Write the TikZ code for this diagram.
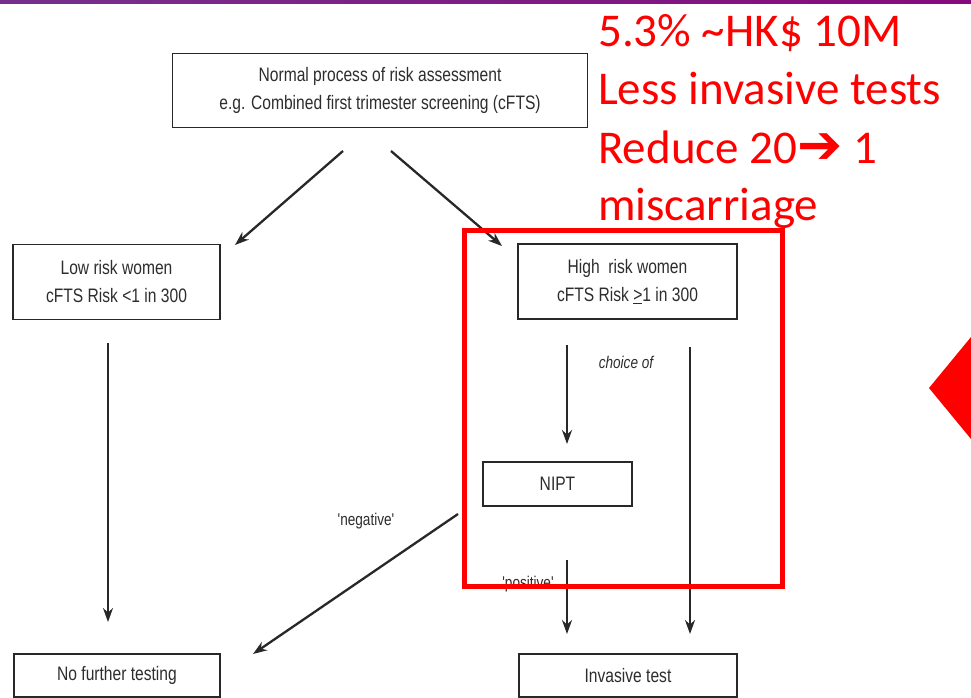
\documentclass[tikz,border=0pt]{standalone}
\usepackage{fontspec}
\setmainfont{Carlito}
\newfontfamily\diagfont[FakeStretch=0.8]{Liberation Sans}
\newfontfamily\redfont{Carlito}
\newfontfamily\symfont{DejaVu Sans}
\usetikzlibrary{arrows.meta,shadings}
\definecolor{boxgray}{RGB}{40,40,40}
\definecolor{txtgray}{RGB}{45,45,45}
\definecolor{hred}{RGB}{255,0,0}
\definecolor{purpL}{RGB}{118,48,140}
\definecolor{purpR}{RGB}{134,10,125}
\tikzset{
  flowbox/.style={draw=boxgray, line width=1.9pt, fill=white, inner sep=0pt,
    align=center, text=txtgray, font=\diagfont\fontsize{19.5}{28}\selectfont},
  flowarrow/.style={draw=boxgray, line width=2.3pt, -{Stealth[length=14pt,width=10pt]}},
  smalllabel/.style={text=txtgray, inner sep=0pt, font=\diagfont\fontsize{17}{20}\selectfont},
  redtext/.style={text=hred, inner sep=0pt, anchor=base west, font=\redfont\fontsize{47}{55}\selectfont}
}
\begin{document}
\begin{tikzpicture}[x=1pt,y=-1pt]
\useasboundingbox (0,0) rectangle (971,698);
\fill[white] (0,0) rectangle (971,698);
% top purple band
\shade[left color=purpL, right color=purpR] (0,0) rectangle (971,4);

% boxes
\node[flowbox, minimum width=415pt, minimum height=74pt] (top) at (380,90.5)
  {Normal process of risk assessment\\e.g. Combined first trimester screening (cFTS)};
\node[flowbox, minimum width=207pt, minimum height=75pt] (low) at (116.5,282)
  {Low risk women\\cFTS Risk <1 in 300};
\node[flowbox, minimum width=219pt, minimum height=75pt] (high) at (627.5,281.5)
  {High\ \ risk women\\cFTS Risk \underline{>}1 in 300};
\node[flowbox, minimum width=149pt, minimum height=44pt] (nipt) at (557.5,484) {NIPT};
\node[flowbox, minimum width=206pt, minimum height=43pt] (nofurther) at (117,675.5) {No further testing};
\node[flowbox, minimum width=218pt, minimum height=43pt] (invasive) at (628,675.5) {Invasive test};

% connector end points
\coordinate (a1s) at (343,151);
\coordinate (a1e) at (235,245);
\coordinate (a2s) at (391,151);
\coordinate (a2e) at (502,246);
\coordinate (l1s) at (108,343);
\coordinate (l1e) at (108,622);
\coordinate (n1s) at (567,345);
\coordinate (n1e) at (567,444);
\coordinate (r1s) at (690,347);
\coordinate (r1e) at (690,634);
\coordinate (p1s) at (567,560);
\coordinate (p1e) at (567,634);
\coordinate (g1s) at (458,514);
\coordinate (g1e) at (253,654);

\draw[flowarrow] (a1s) -- (a1e);
\draw[flowarrow] (a2s) -- (a2e);
\draw[flowarrow] (l1s) -- (l1e);
\draw[flowarrow] (n1s) -- (n1e);
\draw[flowarrow] (r1s) -- (r1e);
\draw[flowarrow] (p1s) -- (p1e);
\draw[flowarrow] (g1s) -- (g1e);

% labels
\node[smalllabel] (choice) at (626,362) {\itshape choice of};
\node[smalllabel] (neg) at (366,521) {'negative'};
\node[smalllabel] (pos) at (528,584) {'positive'};

% red highlight rectangle
\draw[hred, line width=5pt] (464,230) rectangle (782,586);

% red annotation text
\node[redtext] (r1) at (598,47) {5.3\% \textasciitilde HK\$ 10M};
\node[redtext] (r2) at (598,105) {Less invasive tests};
\node[redtext] (r3) at (598,163) {Reduce 20{\symfont\fontsize{54}{56}\selectfont ➔} 1};
\node[redtext] (r4) at (598,220) {miscarriage};

% red pointer triangle
\fill[hred] (929,388) -- (971,337) -- (971,439) -- cycle;
\end{tikzpicture}
\end{document}
